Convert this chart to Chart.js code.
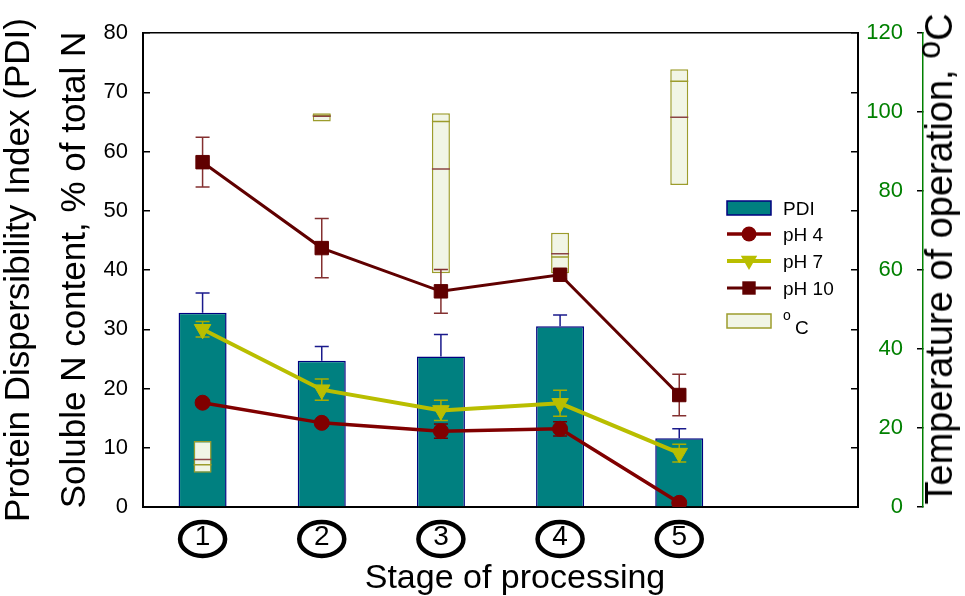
<!DOCTYPE html>
<html>
<head>
<meta charset="utf-8">
<script src="https://cdn.jsdelivr.net/npm/chart.js@4.4.0/dist/chart.umd.min.js"></script>
<style>
body { margin: 0; background: #fff; }
#wrap { position: relative; width: 965px; height: 596px; font-family: "Liberation Sans", Arial, sans-serif; }
.txt { position: absolute; white-space: nowrap; color: #000; }
#xTitle { left: 515px; top: 576px; font-size: 34px; line-height: 34px; transform: translate(-50%, -50%); }
#rTitle { left: 940px; top: 259px; font-size: 38px; line-height: 38px; transform: translate(-50%, -50%) rotate(-90deg); }
.sup { position: relative; top: -0.36em; font-size: 0.85em; }
.leg { font-size: 19px; line-height: 19px; left: 58px; }
</style>
</head>
<body>
<div id="wrap">
  <canvas id="myChart" width="965" height="596"></canvas>
  <div id="xTitle" class="txt">Stage of processing</div>
  <div id="rTitle" class="txt">Temperature of operation, <span class="sup">o</span>C</div>
  <div id="legend" class="txt" style="left:725px; top:198px; width:120px; height:140px;">
    <svg width="50" height="140" style="position:absolute; left:0; top:0">
      <rect x="2" y="3" width="44" height="14" fill="#008080" stroke="#000080" stroke-width="1.5"/>
      <line x1="2" y1="36" x2="46" y2="36" stroke="#800000" stroke-width="3.5"/>
      <circle cx="24" cy="36" r="7.5" fill="#800000"/>
      <line x1="2" y1="63" x2="46" y2="63" stroke="#b9be00" stroke-width="4"/>
      <polygon points="24,72 15.8,57.8 32.2,57.8" fill="#b9be00"/>
      <line x1="2" y1="90" x2="46" y2="90" stroke="#600000" stroke-width="3"/>
      <rect x="17.3" y="83.3" width="13.4" height="13.4" fill="#600000"/>
      <rect x="2" y="116" width="44" height="14" fill="#f1f5e6" stroke="#9c9c2c" stroke-width="1.5"/>
    </svg>
    <div class="txt leg" style="top:0.5px">PDI</div>
    <div class="txt leg" style="top:26.5px">pH 4</div>
    <div class="txt leg" style="top:53.5px">pH 7</div>
    <div class="txt leg" style="top:80.5px">pH 10</div>
    <div class="txt leg" style="top:110px; font-size:14px; line-height:14px">o</div>
    <div class="txt leg" style="top:119.5px; left:70px">C</div>
  </div>
</div>
<script>
// stage labels (6th slot left empty, as in the figure)
var stageLabels = ['1', '2', '3', '4', '5', ''];

// PDI bars, % (left axis)
var pdiValues = [32.8, 24.7, 25.4, 30.5, 11.6];
var pdiErrors = [3.3, 2.4, 3.7, 1.9, 1.6];

// soluble N, % of total N (left axis)
var ph4Values = [17.6, 14.2, 12.8, 13.2, 0.7];
var ph4Errors = [0.4, 0.5, 1.2, 1.2, 0.3];
var ph7Values = [30.0, 19.8, 16.3, 17.5, 9.1];
var ph7Errors = [1.3, 1.8, 1.7, 2.2, 1.5];
var ph10Values = [58.2, 43.7, 36.4, 39.2, 18.9];
var ph10Errors = [4.2, 5.0, 3.7, 0.7, 3.5];

// temperature of operation, oC (right axis) - box low/high and inner lines
var tempLow = [8.7, 97.6, 59.2, 59.2, 81.5];
var tempHigh = [16.7, 99.7, 99.7, 69.4, 110.8];
var tempMedian = [10.7, 99.2, 97.6, 63.3, 107.8];
var tempMean = [12.0, 98.9, 85.6, 64.1, 98.7];

// tick steps
var leftTicks = { min: 0, max: 80, step: 10 };
var rightTicks = { min: 0, max: 120, step: 20 };

Chart.defaults.font.family = '"Liberation Sans", Arial, sans-serif';

var element = document.getElementById('myChart').getContext('2d');

// error bars + circled stage numbers
var extras = {
    id: 'extras',
    beforeDatasetDraw: function (chart, args) {
        var ds = chart.data.datasets[args.index];
        if (!ds.errors) return;
        var ctx = chart.ctx;
        var yScale = chart.scales[args.meta.yAxisID];
        ctx.save();
        ctx.strokeStyle = ds.errColor;
        ctx.lineWidth = 1.5;
        args.meta.data.forEach(function (pt, i) {
            var v = ds.data[i], e = ds.errors[i];
            var x = pt.x;
            var yt = yScale.getPixelForValue(v + e);
            var yb = ds.errUpOnly ? yScale.getPixelForValue(v) : yScale.getPixelForValue(v - e);
            ctx.beginPath();
            ctx.moveTo(x, yt); ctx.lineTo(x, yb);
            ctx.moveTo(x - 7, yt); ctx.lineTo(x + 7, yt);
            if (!ds.errUpOnly) { ctx.moveTo(x - 7, yb); ctx.lineTo(x + 7, yb); }
            ctx.stroke();
        });
        ctx.restore();
    },
    afterDraw: function (chart) {
        var ctx = chart.ctx;
        var xs = chart.scales.x;
        ctx.save();
        ctx.strokeStyle = '#000';
        ctx.lineWidth = 4.5;
        stageLabels.forEach(function (lab, i) {
            if (!lab) return;
            ctx.beginPath();
            ctx.ellipse(xs.getPixelForTick(i), xs.top + 32, 22.5, 17, 0, 0, Math.PI * 2);
            ctx.stroke();
        });
        ctx.restore();
    }
};

var chartData = {
    labels: stageLabels,
    datasets: [
        {
            type: 'bar', label: 'PDI', data: pdiValues, yAxisID: 'y', xAxisID: 'x',
            backgroundColor: '#008080', borderColor: '#000080', borderWidth: 1.5,
            barPercentage: 0.403, categoryPercentage: 1, grouped: false, order: 10,
            errors: pdiErrors, errColor: '#1a1a8c', errUpOnly: true
        },
        {
            type: 'bar', label: 'oC', data: tempLow.map(function (v, i) { return [v, tempHigh[i]]; }),
            yAxisID: 'y2', xAxisID: 'x',
            backgroundColor: '#f1f5e6', borderColor: '#9c9c2c', borderWidth: 1.5, borderSkipped: false,
            barPercentage: 0.151, categoryPercentage: 1, grouped: false, order: 9
        },
        {
            type: 'line', label: 'median', data: tempMedian, yAxisID: 'y2', xAxisID: 'x', showLine: false,
            pointStyle: 'line', pointRadius: 9, pointBorderWidth: 1.5, pointBorderColor: '#9c9c2c', order: 8
        },
        {
            type: 'line', label: 'mean', data: tempMean, yAxisID: 'y2', xAxisID: 'x', showLine: false,
            pointStyle: 'line', pointRadius: 9, pointBorderWidth: 1.5, pointBorderColor: '#8a4444', order: 7
        },
        {
            type: 'line', label: 'pH 4', data: ph4Values, yAxisID: 'y', xAxisID: 'x',
            borderColor: '#800000', borderWidth: 3.5, pointStyle: 'circle', pointRadius: 7.5,
            pointBackgroundColor: '#800000', pointBorderColor: '#800000', pointBorderWidth: 1, order: 3,
            errors: ph4Errors, errColor: '#700000'
        },
        {
            type: 'line', label: 'pH 7', data: ph7Values, yAxisID: 'y', xAxisID: 'x',
            borderColor: '#b9be00', borderWidth: 4, pointStyle: 'triangle', pointRotation: 180, pointRadius: 9.5,
            pointBackgroundColor: '#b9be00', pointBorderColor: '#b9be00', pointBorderWidth: 1, order: 2,
            errors: ph7Errors, errColor: '#a8ad00'
        },
        {
            type: 'line', label: 'pH 10', data: ph10Values, yAxisID: 'y', xAxisID: 'x',
            borderColor: '#600000', borderWidth: 3, pointStyle: 'rect', pointRadius: 9.5,
            pointBackgroundColor: '#600000', pointBorderColor: '#600000', pointBorderWidth: 1, order: 1,
            errors: ph10Errors, errColor: '#843030'
        }
    ]
};

var chartOptions = {
    responsive: false,
    animation: false,
    layout: { padding: { top: 12, left: 0, right: 0, bottom: 0 } },
    plugins: { legend: { display: false }, tooltip: { enabled: false } },
    scales: {
        x: {
            type: 'category', position: 'bottom', offset: true,
            grid: { display: false, drawTicks: false },
            border: { color: '#000', width: 2 },
            ticks: { color: '#000', font: { size: 28, lineHeight: 1.2 }, padding: 13, maxRotation: 0, autoSkip: false },
            afterFit: function (s) { s.height = 89; }
        },
        xTop: {
            type: 'category', position: 'top', offset: true,
            ticks: { display: false },
            grid: { display: false, drawTicks: false },
            border: { color: '#000', width: 1.5 },
            afterFit: function (s) { s.height = 0; }
        },
        y: {
            position: 'left', min: leftTicks.min, max: leftTicks.max,
            ticks: { stepSize: leftTicks.step, color: '#000', font: { size: 22, lineHeight: 1 }, padding: 22 },
            grid: { drawOnChartArea: false, tickLength: -7, color: '#000', lineWidth: 1.5 },
            border: { color: '#000', width: 2 },
            title: {
                display: true,
                text: ['Protein Dispersibility Index (PDI)', 'Soluble N content, % of total N'],
                color: '#000', font: { size: 35, lineHeight: 1.614 }, padding: { top: -9.25, bottom: 0 }
            },
            afterFit: function (s) { s.width = 143; }
        },
        yMirror: {
            position: 'right', weight: 0, min: leftTicks.min, max: leftTicks.max,
            ticks: { display: false, stepSize: leftTicks.step },
            grid: { drawOnChartArea: false, tickLength: -7, color: '#000', lineWidth: 1.5 },
            border: { color: '#000', width: 2 },
            afterFit: function (s) { s.width = 0; }
        },
        y2: {
            position: 'right', weight: 1, min: rightTicks.min, max: rightTicks.max,
            ticks: { display: false },
            grid: { display: false, drawTicks: false },
            border: { display: false },
            afterFit: function (s) { s.width = 65; }
        },
        y3: {
            position: 'right', weight: 2, min: rightTicks.min, max: rightTicks.max,
            ticks: { stepSize: rightTicks.step, color: '#008000', font: { size: 22, lineHeight: 1 }, mirror: true, padding: -20, crossAlign: 'near' },
            grid: { drawOnChartArea: false, tickLength: -6, color: '#000', lineWidth: 1.5 },
            border: { color: '#008000', width: 1.5 },
            afterFit: function (s) { s.width = 42; }
        }
    }
};

var chart = new Chart(element, { type: 'bar', data: chartData, options: chartOptions, plugins: [extras] });
</script>
</body>
</html>
